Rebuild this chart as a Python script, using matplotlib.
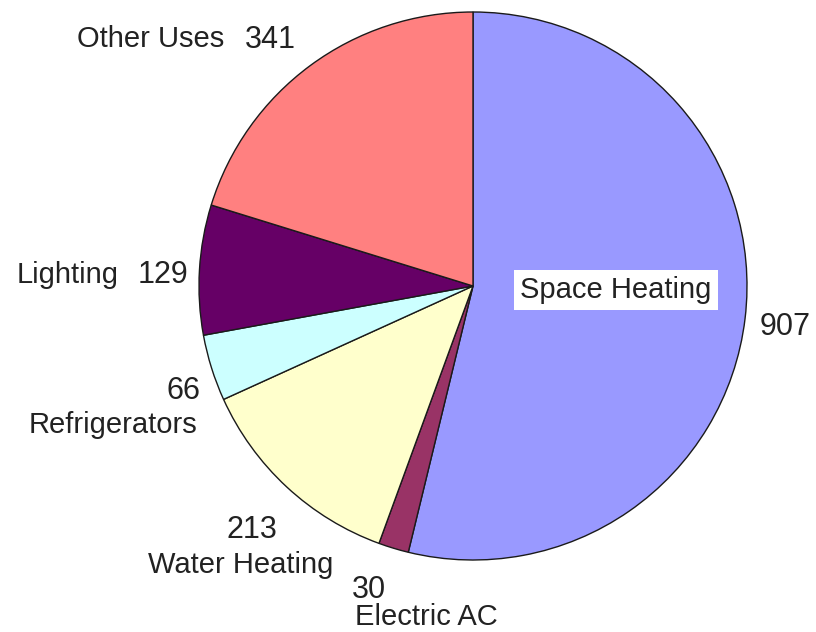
import matplotlib
matplotlib.use("Agg")
import matplotlib.pyplot as plt

plt.rcParams['font.family'] = ['Liberation Sans', 'DejaVu Sans']

# energy use by end use (clockwise from top)
names = ["Space Heating", "Electric AC", "Water Heating", "Refrigerators", "Lighting", "Other Uses"]
values = [907, 30, 213, 66, 129, 341]
colors = ["#9999FF", "#993366", "#FFFFCC", "#CCFFFF", "#660066", "#FF8080"]

W, H = 816, 632


def py(y):
    # picture rows are counted from the top
    return H - y


fig = plt.figure(figsize=(W / 100, H / 100), dpi=100)
ax = fig.add_axes([0, 0, 1, 1])

ax.pie(values, colors=colors, startangle=90, counterclock=False,
       center=(473, py(286)), radius=274, frame=True,
       wedgeprops=dict(edgecolor='#1a1a1a', linewidth=1.0))
ax.set_xlim(0, W)
ax.set_ylim(0, H)
ax.set_aspect('equal')
ax.axis('off')

name_fs = 21
num_fs = 22
tc = '#222222'

# label placement: (x, baseline, ha) for name and number
ax.text(77, py(47), names[5], fontsize=name_fs, color=tc, ha='left', va='baseline')
ax.text(245, py(48), str(values[5]), fontsize=num_fs, color=tc, ha='left', va='baseline')

ax.text(17, py(283), names[4], fontsize=name_fs, color=tc, ha='left', va='baseline')
ax.text(138, py(283), str(values[4]), fontsize=num_fs, color=tc, ha='left', va='baseline')

ax.text(200, py(399), str(values[3]), fontsize=num_fs, color=tc, ha='right', va='baseline')
ax.text(197, py(433), names[3], fontsize=name_fs, color=tc, ha='right', va='baseline')

ax.text(227, py(538), str(values[2]), fontsize=num_fs, color=tc, ha='left', va='baseline')
ax.text(148, py(573), names[2], fontsize=name_fs, color=tc, ha='left', va='baseline')

ax.text(352, py(598), str(values[1]), fontsize=num_fs, color=tc, ha='left', va='baseline')
ax.text(355, py(625), names[1], fontsize=name_fs, color=tc, ha='left', va='baseline')

ax.text(616, py(298), names[0], fontsize=name_fs, color=tc, ha='center', va='baseline',
        bbox=dict(boxstyle='square,pad=0.2', facecolor='white', edgecolor='none'))
ax.text(760, py(335), str(values[0]), fontsize=num_fs, color=tc, ha='left', va='baseline')

fig.savefig("out.png", dpi=100, facecolor='white')
